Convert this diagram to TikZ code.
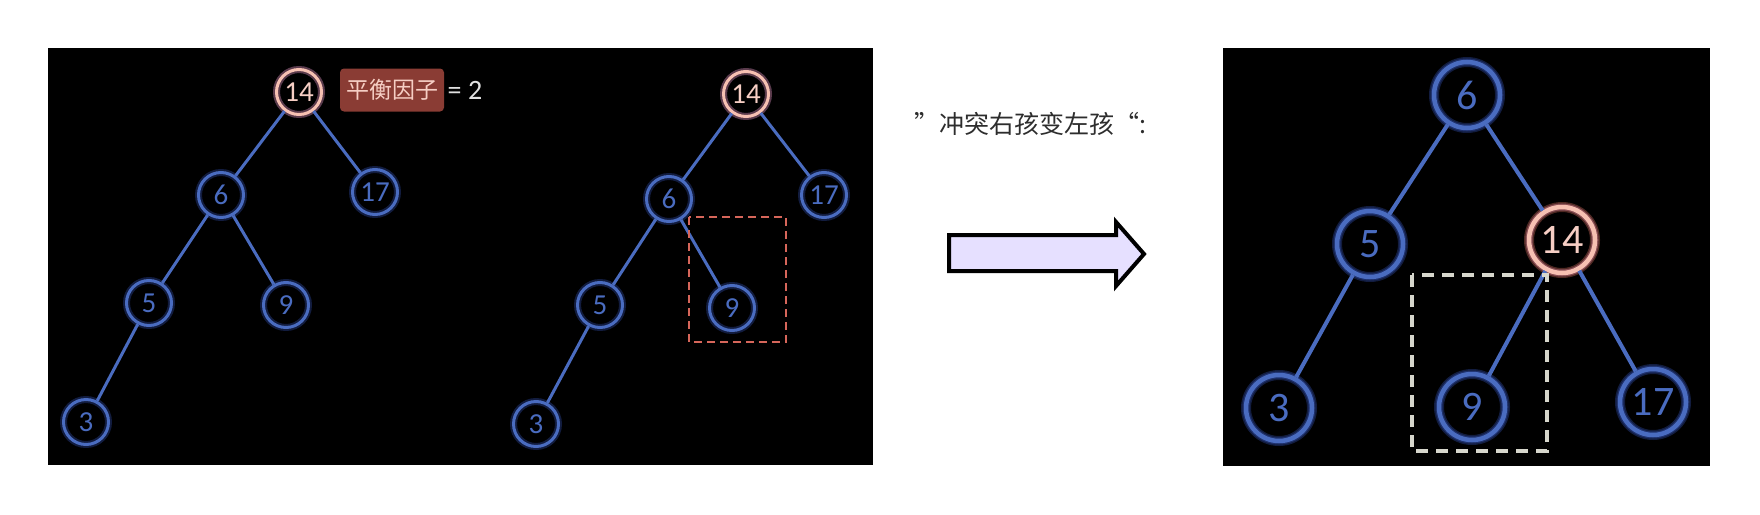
\documentclass[tikz,border=0pt]{standalone}
\usepackage{fontspec}
\setmainfont{Carlito}
\newfontfamily\cjk{Noto Sans CJK SC}
\usepackage{tikz}
\usetikzlibrary{positioning}
\definecolor{nodeblue}{RGB}{74,108,192}
\definecolor{glowblue}{RGB}{60,95,210}
\definecolor{nodepink}{RGB}{246,192,178}
\definecolor{glowpink}{RGB}{225,115,100}
\definecolor{badgered}{RGB}{138,60,52}
\definecolor{badgetext}{RGB}{246,206,196}
\definecolor{boxred}{RGB}{214,102,90}
\definecolor{boxwhite}{RGB}{214,214,204}
\definecolor{arrowfill}{RGB}{230,224,255}
\definecolor{labelgray}{RGB}{45,45,45}

\begin{document}
\begin{tikzpicture}[x=1pt, y=-1pt,
    bnode/.style={circle, draw=nodeblue, line width=3pt, minimum size=45pt, inner sep=0pt,
        text=nodeblue, font=\fontsize{29}{29}\selectfont,
        preaction={draw=glowblue, line width=7pt, opacity=0.3}},
    pnode/.style={bnode, draw=nodepink, text=badgetext,
        preaction={draw=glowpink, line width=7pt, opacity=0.35}},
    bignode/.style={line width=4.5pt, minimum size=66pt, font=\fontsize{42}{42}\selectfont,
        preaction={draw=glowblue, line width=10pt, opacity=0.3}},
    bigpink/.style={line width=4.5pt, minimum size=66pt, font=\fontsize{42}{42}\selectfont,
        preaction={draw=glowpink, line width=10pt, opacity=0.35}},
    treeedge/.style={draw=nodeblue, line width=3pt},
    bigedge/.style={draw=nodeblue, line width=4pt}]
    \useasboundingbox (0, 0) rectangle (1760, 514);

    % panels
    \fill[black] (48, 48) rectangle (873, 465);
    \fill[black] (1223, 48) rectangle (1710, 466);

    % first tree
    \node[pnode] at (299, 92) (a14) {14};
    \node[bnode] at (221, 195) (a6) {6};
    \node[bnode] at (375, 192) (a17) {17};
    \node[bnode] at (149, 303) (a5) {5};
    \node[bnode] at (286, 305) (a9) {9};
    \node[bnode] at (86, 422) (a3) {3};
    \draw[treeedge] (a14) -- (a6);
    \draw[treeedge] (a14) -- (a17);
    \draw[treeedge] (a6) -- (a5);
    \draw[treeedge] (a6) -- (a9);
    \draw[treeedge] (a5) -- (a3);

    % balance factor
    \node[fill=badgered, rounded corners=4pt, minimum width=104pt, minimum height=43pt,
        text=badgetext, font=\cjk\fontsize{23}{23}\selectfont] at (392, 90) (bf) {平衡因子};
    \node[right=0pt of bf, text=white!88!black, font=\fontsize{28}{28}\selectfont] (bfval) {= 2};

    % second tree
    \node[pnode] at (746, 94) (b14) {14};
    \node[bnode] at (669, 199) (b6) {6};
    \node[bnode] at (824, 195) (b17) {17};
    \node[bnode] at (600, 305) (b5) {5};
    \node[bnode] at (732, 308) (b9) {9};
    \node[bnode] at (536, 424) (b3) {3};
    \draw[treeedge] (b14) -- (b6);
    \draw[treeedge] (b14) -- (b17);
    \draw[treeedge] (b6) -- (b5);
    \draw[treeedge] (b6) -- (b9);
    \draw[treeedge] (b5) -- (b3);
    \draw[boxred, line width=2.5pt, dash pattern=on 8pt off 5pt] (689, 217) rectangle (786, 342);

    % rotation label and arrow
    \node[text=labelgray, font=\cjk\fontsize{25}{25}\selectfont] at (1030, 124) (rule) {”冲突右孩变左孩“:};
    \draw[line width=4pt, fill=arrowfill, line join=miter]
        (949, 235) -- (1116, 235) -- (1116, 222) -- (1144, 254) -- (1116, 286)
        -- (1116, 271) -- (949, 271) -- cycle;

    % rotated tree
    \node[bnode, bignode] at (1467, 95) (c6) {6};
    \node[bnode, bignode] at (1370, 244) (c5) {5};
    \node[pnode, bigpink] at (1562, 240) (c14) {14};
    \node[bnode, bignode] at (1279, 408) (c3) {3};
    \node[bnode, bignode] at (1472, 407) (c9) {9};
    \node[bnode, bignode] at (1653, 402) (c17) {17};
    \draw[bigedge] (c6) -- (c5);
    \draw[bigedge] (c6) -- (c14);
    \draw[bigedge] (c5) -- (c3);
    \draw[bigedge] (c14) -- (c9);
    \draw[bigedge] (c14) -- (c17);
    \draw[boxwhite, line width=3.5pt, dash pattern=on 12pt off 8pt] (1412, 275) rectangle (1547, 451);
\end{tikzpicture}
\end{document}
